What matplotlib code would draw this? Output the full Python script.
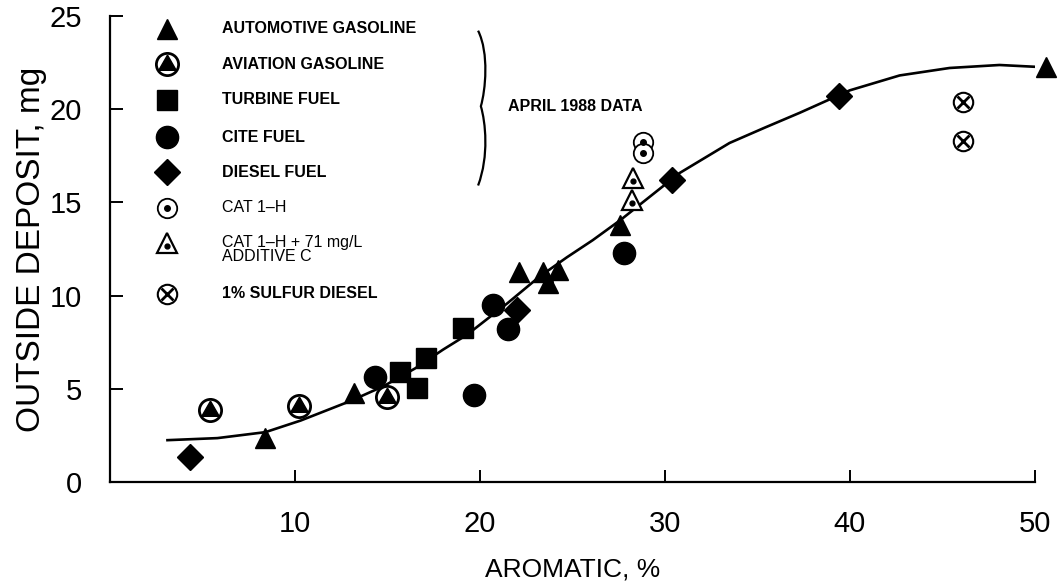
import matplotlib
matplotlib.use("Agg")
import matplotlib.pyplot as plt
from matplotlib.path import Path
from matplotlib.patches import PathPatch

# values (aromatic %, outside deposit mg)
auto_x = [8.4, 13.2, 22.1, 23.4, 24.2, 23.7, 27.6, 50.6]
auto_y = [2.36, 4.77, 11.26, 11.26, 11.37, 10.67, 13.78, 22.25]
avgas_x = [5.4, 10.2, 15.0]
avgas_y = [3.86, 4.07, 4.56]
turbine_x = [15.7, 16.6, 17.1, 19.1]
turbine_y = [5.9, 5.04, 6.65, 8.26]
cite_x = [14.3, 19.7, 20.7, 21.5, 27.8]
cite_y = [5.63, 4.66, 9.49, 8.2, 12.28]
diesel_x = [4.3, 22.0, 30.4, 39.4]
diesel_y = [1.35, 9.22, 16.2, 20.7]
cat_x = [28.8, 28.8]
cat_y = [18.23, 17.64]
cat_add_x = [28.2, 28.3]
cat_add_y = [15.12, 16.3]
sulfur_x = [46.1, 46.1]
sulfur_y = [20.4, 18.3]

# fitted curve
curve_x = [3.1, 5.8, 8.4, 10.3, 13.0, 14.8, 16.5, 18.0, 19.3, 21.5, 23.2, 24.7,
           26.1, 27.6, 30.8, 33.5, 35.4, 37.3, 40.0, 42.7, 45.4, 48.1, 50.3]
curve_y = [2.25, 2.36, 2.68, 3.3, 4.35, 5.15, 6.1, 7.1, 7.9, 9.6, 11.0, 12.05,
           12.97, 14.05, 16.57, 18.18, 19.0, 19.8, 21.0, 21.8, 22.2, 22.36, 22.25]

x_ticks = [10, 20, 30, 40, 50]
y_ticks = [0, 5, 10, 15, 20, 25]

legend_labels = ["AUTOMOTIVE GASOLINE", "AVIATION GASOLINE", "TURBINE FUEL",
                 "CITE FUEL", "DIESEL FUEL", "CAT 1\u2013H",
                 "CAT 1\u2013H + 71 mg/L\nADDITIVE C", "1% SULFUR DIESEL"]

plt.rcParams["font.family"] = ["Liberation Sans", "DejaVu Sans"]

fig = plt.figure(figsize=(10.59, 5.83), dpi=100)
ax = fig.add_axes([0.104, 0.173, 0.873, 0.80])
ax.set_xlim(0, 50)
ax.set_ylim(0, 25)

ax.plot(curve_x, curve_y, color="black", lw=1.9, zorder=2, solid_joinstyle="round")

# triangle inscribed in the aviation gasoline circle
inner_tri = [(0, 1), (-0.93, -0.62), (0.93, -0.62), (0, 1)]


def draw_auto(x, y, ms=15):
    ax.plot(x, y, ls="none", marker="^", ms=ms, color="black", clip_on=False, zorder=3)


def draw_avgas(x, y, ms=16):
    ax.plot(x, y, ls="none", marker="o", ms=ms, mfc="white", mec="black", mew=2.0,
            clip_on=False, zorder=3)
    ax.plot(x, y, ls="none", marker=inner_tri, ms=ms - 2.5, color="black",
            clip_on=False, zorder=4)


def draw_turbine(x, y, ms=15):
    ax.plot(x, y, ls="none", marker="s", ms=ms, color="black", clip_on=False, zorder=3)


def draw_cite(x, y, ms=16):
    ax.plot(x, y, ls="none", marker="o", ms=ms, color="black", clip_on=False, zorder=3)


def draw_diesel(x, y, ms=13.5):
    ax.plot(x, y, ls="none", marker="D", ms=ms, color="black", clip_on=False, zorder=3)


def draw_cat(x, y, ms=14):
    ax.plot(x, y, ls="none", marker="o", ms=ms, mfc="white", mec="black", mew=1.3,
            clip_on=False, zorder=3)
    ax.plot(x, y, ls="none", marker="o", ms=4, color="black", clip_on=False, zorder=4)


def draw_cat_add(x, y, ms=14):
    ax.plot(x, y, ls="none", marker="^", ms=ms, mfc="white", mec="black", mew=1.6,
            clip_on=False, zorder=3)
    ax.plot(x, [v - 0.15 for v in y], ls="none", marker="o", ms=3.5, color="black",
            clip_on=False, zorder=4)


def draw_sulfur(x, y, ms=14):
    ax.plot(x, y, ls="none", marker="o", ms=ms, mfc="white", mec="black", mew=1.5,
            clip_on=False, zorder=3)
    ax.plot(x, y, ls="none", marker="x", ms=ms * 0.6, mec="black", mew=2.0,
            clip_on=False, zorder=4)


draw_auto(auto_x, auto_y)
draw_avgas(avgas_x, avgas_y)
draw_turbine(turbine_x, turbine_y)
draw_cite(cite_x, cite_y)
draw_diesel(diesel_x, diesel_y)
draw_cat(cat_x, cat_y)
draw_cat_add(cat_add_x, cat_add_y)
draw_sulfur(sulfur_x, sulfur_y)

# hand-made legend in data coordinates
leg_mx = 3.1
leg_tx = 6.05
leg_rows = [24.3, 22.4, 20.5, 18.5, 16.6, 14.7, 12.8, 10.1]
drawers = [draw_auto, draw_avgas, draw_turbine, draw_cite, draw_diesel,
           draw_cat, draw_cat_add, draw_sulfur]
for i, (lab, row, fn) in enumerate(zip(legend_labels, leg_rows, drawers)):
    fn([leg_mx], [row])
    weight = "normal" if i in (5, 6) else "bold"
    if "\n" in lab:
        ax.text(leg_tx, row + 0.45, lab, fontsize=11.5, fontweight=weight, va="top",
                ha="left", linespacing=0.95)
    else:
        ax.text(leg_tx, row, lab, fontsize=11.5, fontweight=weight, va="center", ha="left")

# brace and april note
bx = 20.0
brace = Path([(bx - 0.1, 24.2), (bx + 0.5, 23.0), (bx + 0.3, 21.0), (bx + 0.05, 20.15),
              (bx + 0.3, 19.3), (bx + 0.5, 17.5), (bx - 0.1, 15.9)],
             [Path.MOVETO, Path.CURVE4, Path.CURVE4, Path.CURVE4,
              Path.CURVE4, Path.CURVE4, Path.CURVE4])
ax.add_patch(PathPatch(brace, fill=False, lw=1.6, color="black"))
ax.text(21.5, 20.15, "APRIL 1988 DATA", fontsize=11.5, fontweight="bold", va="center",
        ha="left")

ax.spines["top"].set_visible(False)
ax.spines["right"].set_visible(False)
ax.spines["left"].set_linewidth(1.6)
ax.spines["bottom"].set_linewidth(1.6)

ax.set_xticks(x_ticks)
ax.set_yticks(y_ticks)
ax.tick_params(axis="both", direction="in", length=9, width=1.4)
ax.tick_params(axis="x", pad=20, labelsize=21)
ax.tick_params(axis="y", pad=20, labelsize=21)

ax.set_xlabel("AROMATIC, %", fontsize=19, labelpad=14)
ax.set_ylabel("OUTSIDE DEPOSIT, mg", fontsize=24, labelpad=0)
ax.yaxis.set_label_coords(-0.068, 0.5)

fig.savefig("out.png", dpi=100)
